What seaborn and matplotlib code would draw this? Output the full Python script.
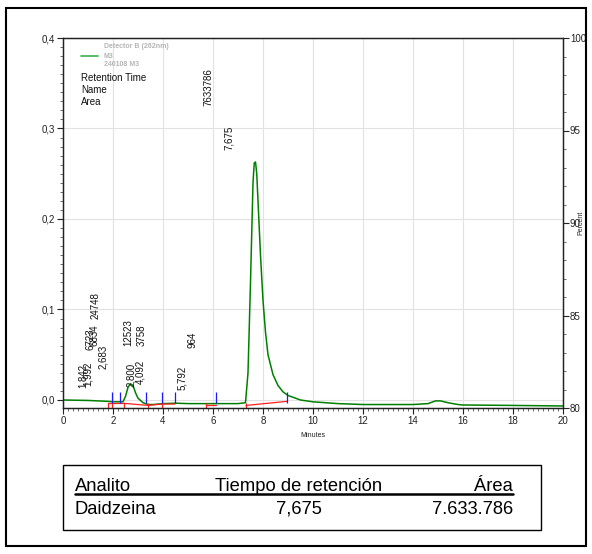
import numpy as np
import pandas as pd
import matplotlib
matplotlib.use("Agg")
import matplotlib.pyplot as plt
import seaborn as sns
from matplotlib.lines import Line2D
from matplotlib.patches import Rectangle
from matplotlib.ticker import MultipleLocator, FuncFormatter

# ---------------- data ----------------
time_min = [0.0, 1.0, 1.8, 2.0, 2.4, 2.5, 2.6, 2.7, 2.8, 2.9, 3.0, 3.2, 3.4, 3.6,
            4.0, 4.5, 5.0, 6.0, 7.0, 7.3, 7.4, 7.5, 7.6, 7.65, 7.7, 7.75, 7.8,
            7.9, 8.0, 8.1, 8.2, 8.4, 8.6, 8.8, 9.0, 9.5, 10.0, 11.0, 12.0, 13.0,
            14.0, 14.6, 14.9, 15.1, 15.4, 15.8, 16.0, 18.0, 20.0]
signal_au = [0.0, -0.0005, -0.0015, -0.002, -0.002, 0.004, 0.014, 0.018, 0.016,
             0.008, 0.002, -0.003, -0.005, -0.005, -0.004, -0.0035, -0.004,
             -0.004, -0.004, -0.003, 0.03, 0.13, 0.24, 0.262, 0.263, 0.25, 0.22,
             0.16, 0.11, 0.075, 0.05, 0.028, 0.016, 0.009, 0.005, 0.0, -0.002,
             -0.004, -0.005, -0.005, -0.005, -0.004, -0.001, -0.001, -0.003,
             -0.005, -0.0055, -0.006, -0.0066]

# peak start/end markers
blue_marks = [1.96, 2.28, 3.32, 3.96, 4.48, 6.12, 8.96]
red_marks = [1.8, 1.96, 2.44, 3.4, 3.96, 5.72, 7.32]
# integration baselines (segments)
base_segments = [
    ([1.8, 2.44], [-0.003, -0.003]),
    ([2.44, 3.4, 3.96, 4.48], [-0.0037, -0.006, -0.0045, -0.0045]),
    ([5.72, 6.12], [-0.005, -0.005]),
    ([7.32, 8.96], [-0.006, -0.0015]),
]

# peak annotation texts and their positions (minutes, AU)
peak_labels = ["7633786", "7,675", "1,842", "1,992", "2,683", "6723", "6834",
               "24748", "12523", "3758", "964", "2,800", "4,092", "5,792"]
label_x = [5.8, 6.64, 0.8, 1.0, 1.6, 1.12, 1.28, 1.32, 2.6, 3.16, 5.2, 2.72, 3.08, 4.76]
label_y = [0.346, 0.29, 0.027, 0.029, 0.048, 0.067, 0.072, 0.104, 0.075, 0.072,
           0.066, 0.028, 0.031, 0.024]

x_ticks = list(range(0, 21, 2))
left_ticks = [0.0, 0.1, 0.2, 0.3, 0.4]
right_ticks = [80, 85, 90, 95, 100]

table_header = ["Analito", "Tiempo de retención", "Área"]
table_row = ["Daidzeina", "7,675", "7.633.786"]

# ---------------- style ----------------
sns.set_style("white")
plt.rcParams["font.family"] = ["Liberation Sans", "DejaVu Sans"]

W, H = 592, 554
fig = plt.figure(figsize=(W / 100, H / 100), dpi=100)


def fx(px):
    return px / W


def fy(py):
    return 1 - py / H


ax = fig.add_axes([fx(63), fy(408), fx(500), 370 / H])
ax.set_xlim(0, 20)
ax.set_ylim(-0.00884, 0.4)

df = pd.DataFrame({"Minutes": time_min, "AU": signal_au})
sns.lineplot(data=df, x="Minutes", y="AU", ax=ax, color="#008000", lw=1.1,
             estimator=None, sort=False)

# baselines & markers
for xs, ys in base_segments:
    ax.plot(xs, ys, color="#ff2020", lw=0.9)
ax.vlines(red_marks, -0.0088, -0.003, color="#ff2020", lw=0.9)
ax.vlines(blue_marks, -0.003, 0.009, color="#1a1aff", lw=0.9)

for t, xx, yy in zip(peak_labels, label_x, label_y):
    ax.text(xx, yy, t, rotation=90, ha="center", va="center", fontsize=7,
            color="#111111")

# axes styling
ax.set_xticks(x_ticks)
ax.set_yticks(left_ticks)
ax.xaxis.set_minor_locator(MultipleLocator(0.2))
ax.yaxis.set_minor_locator(MultipleLocator(0.01))
ax.yaxis.set_major_formatter(FuncFormatter(lambda v, p: f"{v:.1f}".replace(".", ",")))
ax.grid(True, which="major", color="#e2e2e2", lw=0.8)
ax.tick_params(which="major", length=4, width=0.8, labelsize=7, colors="#222222",
               pad=2, direction="out")
ax.tick_params(which="minor", length=2, width=0.6, colors="#555555", direction="out")
ax.tick_params(axis="x", which="both", bottom=True)
ax.tick_params(axis="y", which="both", left=True)
ax.set_xlabel("Minutes", fontsize=5, labelpad=4, color="#222222")
ax.set_ylabel("")
for s in ax.spines.values():
    s.set_color("#222222")
    s.set_linewidth(0.9)

ax2 = ax.twinx()
ax2.set_ylim(80, 100)
ax2.set_yticks(right_ticks)
ax2.yaxis.set_minor_locator(MultipleLocator(1))
ax2.tick_params(which="major", length=4, width=0.8, labelsize=7, colors="#222222",
                pad=1, direction="out", right=True)
ax2.tick_params(which="minor", length=2, width=0.6, colors="#555555",
                direction="out", right=True)
ax2.set_ylabel("Percent", fontsize=5, color="#222222")
ax2.yaxis.set_label_coords(1.028, 0.5)
ax2.grid(False)
for s in ax2.spines.values():
    s.set_color("#222222")
    s.set_linewidth(0.9)

# legend block
fig.add_artist(Line2D([fx(81), fx(98)], [fy(56), fy(56)], color="#3cb043", lw=1.2))
fig.text(fx(104), fy(47), "Detector B (262nm)", fontsize=5, color="#b5b5b5",
         va="center", ha="left", fontweight="bold")
fig.text(fx(104), fy(56), "M3", fontsize=5, color="#b5b5b5", va="center",
         ha="left", fontweight="bold")
fig.text(fx(104), fy(65), "240108 M3", fontsize=5, color="#b5b5b5", va="center",
         ha="left", fontweight="bold")
for txt, py in zip(["Retention Time", "Name", "Area"], [78, 90, 102]):
    fig.text(fx(81), fy(py), txt, fontsize=7, color="#111111", va="center",
             ha="left")

# table
fig.add_artist(Rectangle((fx(63), fy(530)), fx(478), (530 - 465) / H,
                         transform=fig.transFigure, fill=False, ec="black",
                         lw=1.0))
fig.add_artist(Line2D([fx(75), fx(513)], [fy(494), fy(494)], color="black", lw=1.8))
tx = [(fx(75), "left"), (fx(299), "center"), (fx(513), "right")]
for (x, ha), h, r in zip(tx, table_header, table_row):
    fig.text(x, fy(491), h, fontsize=13.2, ha=ha, va="baseline", color="black")
    fig.text(x, fy(514), r, fontsize=13.2, ha=ha, va="baseline", color="black")

# outer frame
fig.add_artist(Rectangle((fx(6), fy(546)), fx(580), (546 - 8) / H,
                         transform=fig.transFigure, fill=False, ec="black",
                         lw=1.5))

fig.savefig("out.png", dpi=100)
